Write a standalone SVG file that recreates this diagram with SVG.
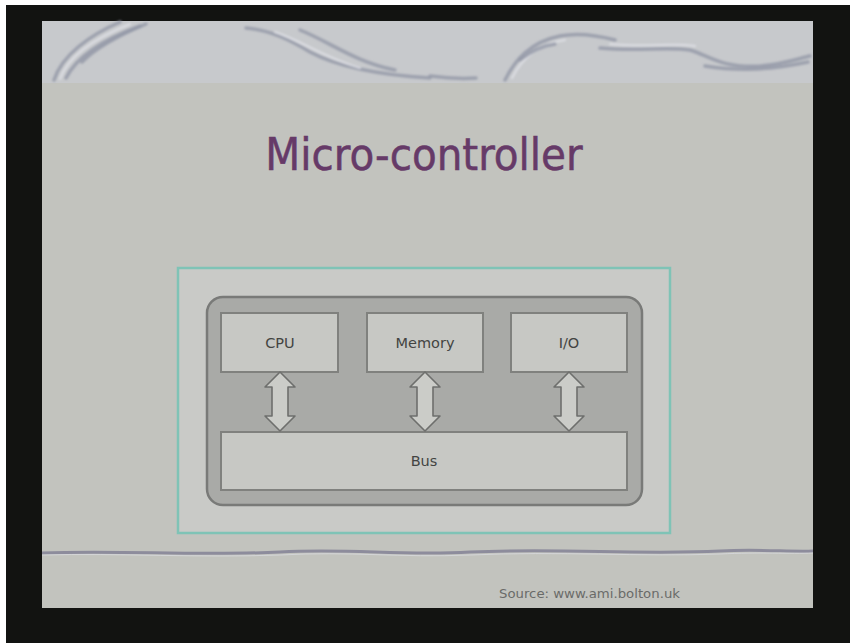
<svg xmlns="http://www.w3.org/2000/svg" width="850" height="643" viewBox="0 0 850 643">
  <style>
    .swirl { fill: none; stroke: #9297a6; stroke-width: 3.5; stroke-linecap: round; opacity: 0.8; }
    .glint { fill: none; stroke: #e2e4ea; stroke-width: 2; stroke-linecap: round; opacity: 0.8; }
    .block { fill: #c7c8c4; stroke: #80817e; stroke-width: 2; }
    .label { font-family: "DejaVu Sans", Verdana, sans-serif; font-size: 14.5px; fill: #434442; text-anchor: middle; }
    .dbl { fill: #cbccc8; stroke: #6e6f6d; stroke-width: 1.6; stroke-linejoin: round; }
  </style>
  <defs>
    <!-- double-headed vertical arrow, centred on x=0, spanning y=0..60 -->
    <path id="dblArrow" d="M0 0 L15 15 L8 15 L8 44 L15 44 L0 59 L-15 44 L-8 44 L-8 15 L-15 15 Z"/>
    <filter id="soft" x="-5%" y="-20%" width="110%" height="140%">
      <feGaussianBlur stdDeviation="0.9"/>
    </filter>
  </defs>

  <!-- frame -->
  <rect x="0" y="0" width="850" height="643" fill="#ffffff"/>
  <rect x="6" y="5" width="844" height="638" fill="#121311"/>

  <!-- slide -->
  <rect x="42" y="21" width="771" height="587" fill="#c2c3be"/>
  <rect x="42" y="21" width="771" height="62" fill="#c7c9cc"/>

  <!-- header swirls -->
  <g id="header-swirls" filter="url(#soft)">
    <path class="swirl" d="M54 80 C62 55 90 35 120 22"/>
    <path class="swirl" d="M66 78 C76 58 102 40 140 26"/>
    <path class="glint" d="M60 79 C68 56 95 38 130 24"/>
    <path class="swirl" d="M82 62 C98 46 122 34 146 24"/>
    <path class="swirl" d="M246 28 C270 30 290 40 310 52 C340 68 380 75 430 78"/>
    <path class="swirl" d="M300 30 C330 42 355 62 395 70"/>
    <path class="glint" d="M275 32 C300 40 325 58 360 68"/>
    <path class="swirl" d="M430 76 C445 78 460 79 476 78"/>
    <path class="swirl" d="M505 80 C515 60 530 42 560 36 C580 32 600 36 615 40"/>
    <path class="glint" d="M512 78 C522 58 538 44 565 40"/>
    <path class="swirl" d="M520 60 C530 52 540 46 555 44"/>
    <path class="swirl" d="M600 48 C640 52 665 46 690 50 C710 56 720 68 760 66 C785 64 800 58 810 56"/>
    <path class="glint" d="M610 44 C650 48 670 42 695 46"/>
    <path class="swirl" d="M705 66 C730 70 760 72 808 62"/>
  </g>

  <!-- footer rule -->
  <path d="M42 553 C120 550 200 556 280 552 C350 548 400 556 470 552 C560 548 640 555 720 551 C760 549 790 552 813 551" fill="none" stroke="#8d8c9c" stroke-width="3"/>
  <path d="M42 555 C120 553 200 558 280 555 C350 551 400 558 470 555 C560 551 640 557 720 554 C760 552 790 554 813 553" fill="none" stroke="#dcdde2" stroke-width="1" opacity="0.7"/>

  <!-- title -->
  <text x="424" y="170" font-family="'DejaVu Sans Condensed', 'DejaVu Sans', sans-serif" font-size="45" fill="#663a68" stroke="#663a68" stroke-width="0.5" text-anchor="middle">Micro-controller</text>

  <!-- outer panel -->
  <rect id="panel" x="178" y="268" width="492" height="265" fill="#c9cac7" stroke="#7fc3b6" stroke-width="2.5"/>

  <!-- chip body -->
  <g id="chip">
    <rect x="207" y="297" width="435" height="208" rx="16" ry="16" fill="#a9aaa7" stroke="#797a78" stroke-width="2.5"/>
  </g>

  <g id="cpu">
    <rect class="block" x="221" y="313" width="117" height="59"/>
    <text class="label" x="280" y="348">CPU</text>
  </g>
  <g id="memory">
    <rect class="block" x="367" y="313" width="116" height="59"/>
    <text class="label" x="425" y="348">Memory</text>
  </g>
  <g id="io">
    <rect class="block" x="511" y="313" width="116" height="59"/>
    <text class="label" x="569" y="348">I/O</text>
  </g>
  <g id="bus">
    <rect class="block" x="221" y="432" width="406" height="58"/>
    <text class="label" x="424" y="466">Bus</text>
  </g>

  <!-- connectors -->
  <g id="connectors">
    <use href="#dblArrow" class="dbl" transform="translate(280 372)"/>
    <use href="#dblArrow" class="dbl" transform="translate(425 372)"/>
    <use href="#dblArrow" class="dbl" transform="translate(569 372)"/>
  </g>

  <!-- credit -->
  <text x="499" y="598" font-family="'DejaVu Sans Condensed', 'DejaVu Sans', sans-serif" font-size="12" fill="#6a6b69" textLength="181" lengthAdjust="spacingAndGlyphs">Source: www.ami.bolton.uk</text>
</svg>
